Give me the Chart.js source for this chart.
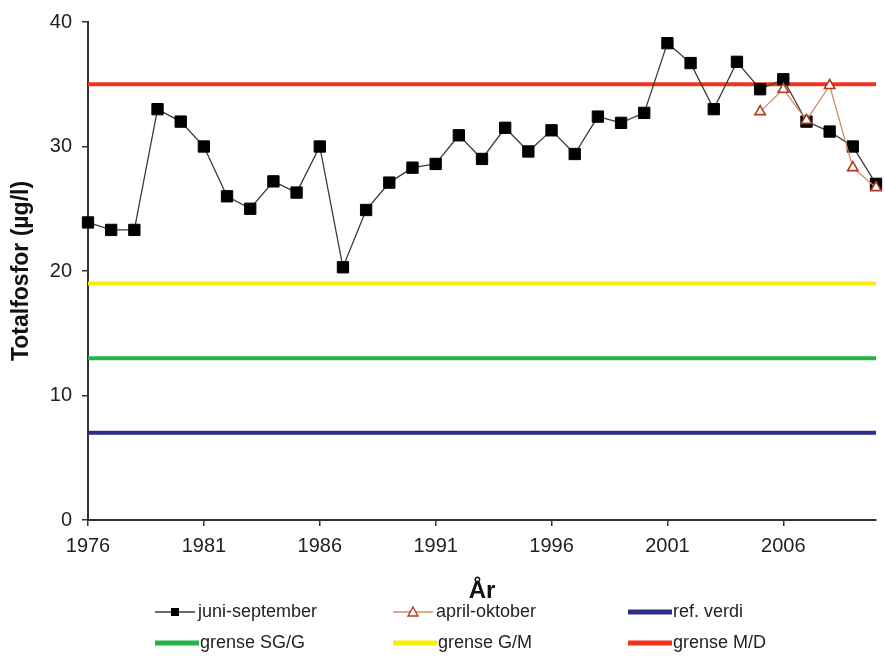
<!DOCTYPE html>
<html>
<head>
<meta charset="utf-8">
<script src="https://cdn.jsdelivr.net/npm/chart.js@4"></script>
<style>
  html, body { margin: 0; padding: 0; background: #fff; }
  #wrap { position: relative; width: 885px; height: 657px; }
  #c { position: absolute; left: 0; top: 0; }
  .lg { position: absolute; font-family: "Liberation Sans", Arial, sans-serif; font-size: 18px; color: #222; line-height: 20px; white-space: nowrap; }
  .lg svg { position: absolute; }
</style>
</head>
<body>
<div id="wrap">
  <canvas id="c" width="885" height="657"></canvas>
  <div id="legend"></div>
</div>
<script>
// ---- data ----
const years = [1976,1977,1978,1979,1980,1981,1982,1983,1984,1985,1986,1987,1988,1989,1990,1991,1992,1993,1994,1995,1996,1997,1998,1999,2000,2001,2002,2003,2004,2005,2006,2007,2008,2009,2010];
const juniSeptember = [23.9,23.3,23.3,33.0,32.0,30.0,26.0,25.0,27.2,26.3,30.0,20.3,24.9,27.1,28.3,28.6,30.9,29.0,31.5,29.6,31.3,29.4,32.4,31.9,32.7,38.3,36.7,33.0,36.8,34.6,35.4,32.0,31.2,30.0,27.0];
const aprilYears = [2005,2006,2007,2008,2009,2010];
const aprilOktober = [32.8,34.6,32.1,34.9,28.3,26.7];
const refVerdi = 7;
const grenseSGG = 13;
const grenseGM = 19;
const grenseMD = 35;
const xTickLabels = [1976,1981,1986,1991,1996,2001,2006];
const yTicks = [0,10,20,30,40];

const FONT = '"Liberation Sans", Arial, sans-serif';
const pts = (xs, ys) => xs.map((x, i) => ({x: x, y: ys[i]}));
const flat = v => years.map(x => ({x: x, y: v}));

const datasets = [
  { label: 'april-oktober', data: pts(aprilYears, aprilOktober), borderColor: '#d98a63', borderWidth: 1.3, clip: false,
    pointStyle: 'triangle', pointRadius: 6, pointBackgroundColor: '#fff', pointBorderColor: '#b03a22', pointBorderWidth: 1.6, tension: 0 },
  { label: 'juni-september', data: pts(years, juniSeptember), borderColor: '#3a3a3a', borderWidth: 1.3, clip: false,
    pointStyle: 'rect', pointRadius: 8, pointBackgroundColor: '#000', pointBorderColor: '#000', pointBorderWidth: 1, tension: 0 },
  { label: 'grense M/D', data: flat(grenseMD), borderColor: '#f0321e', borderWidth: 4, pointRadius: 0 },
  { label: 'grense G/M', data: flat(grenseGM), borderColor: '#fbec05', borderWidth: 4, pointRadius: 0 },
  { label: 'grense SG/G', data: flat(grenseSGG), borderColor: '#22b446', borderWidth: 4, pointRadius: 0 },
  { label: 'ref. verdi', data: flat(refVerdi), borderColor: '#2d2d88', borderWidth: 4, pointRadius: 0 }
];

new Chart(document.getElementById('c'), {
  type: 'line',
  data: { datasets: datasets },
  options: {
    responsive: false,
    animation: false,
    events: [],
    layout: { padding: { top: 20, right: 1, bottom: 49, left: 0 } },
    plugins: { legend: { display: false }, tooltip: { enabled: false } },
    scales: {
      x: {
        type: 'linear', min: 1976, max: 2010,
        afterBuildTicks: s => { s.ticks = xTickLabels.map(v => ({value: v})); },
        afterFit: s => { s.height = 88; },
        ticks: { autoSkip: false, maxRotation: 0, padding: 8, color: '#222', font: { family: FONT, size: 20 }, callback: v => String(v) },
        grid: { drawOnChartArea: false, drawTicks: true, tickLength: 6, color: '#333', lineWidth: 1.5 },
        border: { display: true, color: '#333', width: 2 },
        title: { display: true, text: 'År', color: '#111', font: { family: FONT, size: 24, weight: 'bold' }, padding: { top: 0, bottom: 2 } }
      },
      y: {
        min: 0, max: 40,
        afterBuildTicks: s => { s.ticks = yTicks.map(v => ({value: v})); },
        afterFit: s => { s.width = 88; },
        ticks: { padding: 10, color: '#222', font: { family: FONT, size: 20 } },
        grid: { drawOnChartArea: false, drawTicks: true, tickLength: 6, color: '#333', lineWidth: 1.5 },
        border: { display: true, color: '#333', width: 2 },
        title: { display: true, text: 'Totalfosfor (µg/l)', color: '#111', font: { family: FONT, size: 23, weight: 'bold' }, padding: { top: 8, bottom: 0 } }
      }
    }
  }
});

// ---- HTML legend ----
const legendItems = [
  { label: 'juni-september', kind: 'rect', color: '#3a3a3a', x: 155, y: 612 },
  { label: 'april-oktober', kind: 'tri', color: '#d98a63', x: 393, y: 612 },
  { label: 'ref. verdi', kind: 'line', color: '#2d2d88', x: 628, y: 612 },
  { label: 'grense SG/G', kind: 'line', color: '#22b446', x: 155, y: 643 },
  { label: 'grense G/M', kind: 'line', color: '#fbec05', x: 393, y: 643 },
  { label: 'grense M/D', kind: 'line', color: '#f0321e', x: 628, y: 643 }
];
const lg = document.getElementById('legend');
legendItems.forEach(it => {
  const d = document.createElement('div');
  d.className = 'lg';
  d.style.left = it.x + 'px';
  d.style.top = (it.y - 11) + 'px';
  let svg;
  if (it.kind === 'line') {
    svg = '<svg width="44" height="20" style="left:0;top:1px"><line x1="0" y1="10" x2="44" y2="10" stroke="' + it.color + '" stroke-width="5" stroke-linecap="round"/></svg>';
  } else if (it.kind === 'rect') {
    svg = '<svg width="42" height="20" style="left:0;top:1px"><line x1="0" y1="10" x2="40" y2="10" stroke="' + it.color + '" stroke-width="1.3"/><rect x="16" y="6" width="8" height="8" fill="#000"/></svg>';
  } else {
    svg = '<svg width="42" height="20" style="left:0;top:1px"><line x1="0" y1="10" x2="40" y2="10" stroke="' + it.color + '" stroke-width="1.3"/><polygon points="20,5 25,14 15,14" fill="#fff" stroke="#b03a22" stroke-width="1.4"/></svg>';
  }
  d.innerHTML = svg + '<span style="padding-left:' + (it.kind === 'line' ? 45 : 43) + 'px">' + it.label + '</span>';
  lg.appendChild(d);
});
</script>
</body>
</html>
